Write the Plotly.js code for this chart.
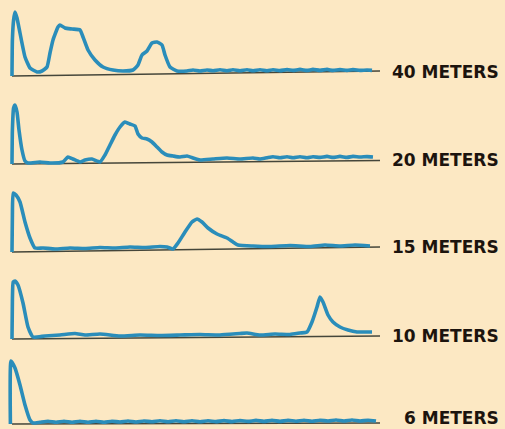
<!DOCTYPE html>
<html><head><meta charset="utf-8">
<script src="https://cdn.plot.ly/plotly-3.0.1.min.js"></script>
<style>html,body{margin:0;padding:0;background:#fce8c3;}#chart{width:505px;height:429px;}</style>
</head><body><div id="chart"></div>
<script>
// Band labels (top to bottom)
const bands = ["40 METERS", "20 METERS", "15 METERS", "10 METERS", "6 METERS"];

// Relative signal level vs. position along the sweep (arbitrary units)
const x40 = [0,0.1,0.4,0.75,1.25,2,3.25,4.5,6.25,7.5,8.75,9.5,10.25,11.5,12,13.25,15,17,17.75,19,20.75,22.75,25.25,27.75,30.25,31.5,32.5,33.75,35,36.25,37.5,38.25,39.5,41.25,43.75,45.25,47,48.75,50.25,52,53.75,55.25,57,58.75,60.25,62,63.75,65.25,67,68.75,70.25,72,73.75,75.25,77,78.75,80.25,82,83.75,85.25,87,88.75,90];
const y40 = [0,36,56,64,58,43,19,8,4,5,9,23,36,49,51,48,47,46,39,26,16,9,6,5,6,11,21,25,33,34,31,21,9,5,5,6,5,6,5.2,6.2,5.2,6.2,5.2,6.2,5.2,6.2,5.2,6.2,5.4,6.4,5.6,6.6,5.6,6.6,5.6,6.6,5.6,6.4,5.6,6.4,5.6,6,5.6];

const x20 = [0,0.1,0.4,0.75,1.25,1.75,2.5,3.25,4,7,9.5,12.75,14,15.25,17,18.25,20,22,23.25,24.5,25.75,27,28.25,29.5,30.75,31.5,32.5,33.75,35,36.25,37.5,38.75,40.25,42,43.75,45.25,47,50.25,53.75,57,60.25,62,63.75,65.25,67,68.75,70.25,72,73.75,75.25,77,78.75,80.25,82,83.75,85.25,87,88.75,90.25];
const y20 = [0,34,56,59,52,34,14,3,1,2,1,2,7,5,2,4,5,2,9,19,29,37,42,40,38,30,26,25,22,17,12,9,8,7,8,6,4,5,6,5,6,5,6.2,7.2,6.2,7.2,6.2,7.2,6.2,7.2,6.6,7.6,6.6,7.6,6.6,7.6,7,7.4,7];

const x15 = [0,0.1,0.3,1,2,3.25,4.5,5.75,7.75,10.75,14.5,18.25,22,25.75,29.5,33.25,37,38.75,40.25,41.5,43.25,45,46.25,47.5,49,51.25,53.75,55.25,56.5,60.25,64.5,69.5,74.5,78.25,82,85.75,89.5];
const y15 = [0,37,59,57,50,30,14,4,4,3,4,3.5,4.5,4,5,4.5,5.5,5,3,9,20,30,33,30,24,18,14,10,7,6,5.5,6.5,5.5,7,6,7,6];

const x10 = [0,0.1,0.3,0.75,1.5,2.75,4,5.25,8.25,12,15.75,18.25,22,27,32,37,42,47,52,57,58.75,62,65.75,69.5,72,73.75,75,76.25,77,77.75,79,80.25,82,84,86.25,88.75,90];
const y10 = [0,39,57,58,54,36,12,2,3,4,5.5,4,5,3,4,3.5,4,4.5,4,5.5,6,4,5,4.5,6,7,17,32,42,37,24,17,12,9,7,7,7];

const x6 = [-0.4,-0.25,0.75,2,3.25,4.5,5.25,7,9,11,13,15,17,19,21,23,25,27,29,31,33,35,37,39,41,43,45,47,49,51,53,55,57,59,61,63,65,67,69,71,73,75,77,79,81,83,85,87,89,91];
const y6 = [0,63,56,39,19,4,1,1.8,2.8,1.8,2.8,1.8,2.8,1.8,2.8,1.8,2.8,2,3,2,3,2.2,3.2,2.2,3.2,2.2,3.2,2.2,3.2,2.4,3.4,2.4,3.4,2.6,3.6,2.6,3.6,2.6,3.6,2.8,3.8,2.8,3.8,3,4,3,4,3,3.8,3];

const curvesX = [x40, x20, x15, x10, x6];
const curvesY = [y40, y20, y15, y10, y6];

// Baseline (zero reference) ends, per band: slight tilt in the original drawing
const baseX = [0, 92];
const baseY = [[0, 5], [0, 3.5], [0, 5], [0, 3], [0, 1]];
// Label vertical position (signal units) per band
const labelY = [4, 4, 5, 3, 6];

// ---- layout ----
const W = 505, H = 429;
const baselinePx = [76, 164, 252, 339, 424];
const below = 5, above = 74;
const curveColor = '#2a8dba';
const traces = [];
const layout = {
  width: W, height: H,
  margin: {l: 0, r: 0, t: 0, b: 0},
  paper_bgcolor: '#fce8c3', plot_bgcolor: 'rgba(0,0,0,0)',
  showlegend: false,
  xaxis: {range: [-3, 123.25], visible: false, fixedrange: true},
  annotations: []
};
for (let i = 0; i < 5; i++) {
  const ax = i === 0 ? 'y' : 'y' + (i + 1);
  const key = i === 0 ? 'yaxis' : 'yaxis' + (i + 1);
  const b = baselinePx[i];
  layout[key] = {
    domain: [Math.max(0, (H - (b + below)) / H), (H - (b - above)) / H],
    range: [-below, above], visible: false, fixedrange: true, anchor: 'x'
  };
  traces.push({x: baseX, y: baseY[i], xaxis: 'x', yaxis: ax, mode: 'lines',
    line: {color: '#45463a', width: 1.4}, hoverinfo: 'skip'});
  traces.push({x: curvesX[i], y: curvesY[i], xaxis: 'x', yaxis: ax, mode: 'lines',
    line: {color: curveColor, width: 3.6, shape: 'spline', smoothing: 0.45}, hoverinfo: 'skip'});
  layout.annotations.push({
    text: bands[i], xref: 'x', yref: ax, x: 122.2, y: labelY[i],
    xanchor: 'right', yanchor: 'middle', showarrow: false,
    font: {family: 'DejaVu Sans, sans-serif', size: 17, color: '#1c140e', weight: 'bold'}
  });
}
Plotly.newPlot('chart', traces, layout, {staticPlot: true, displayModeBar: false});
</script></body></html>
